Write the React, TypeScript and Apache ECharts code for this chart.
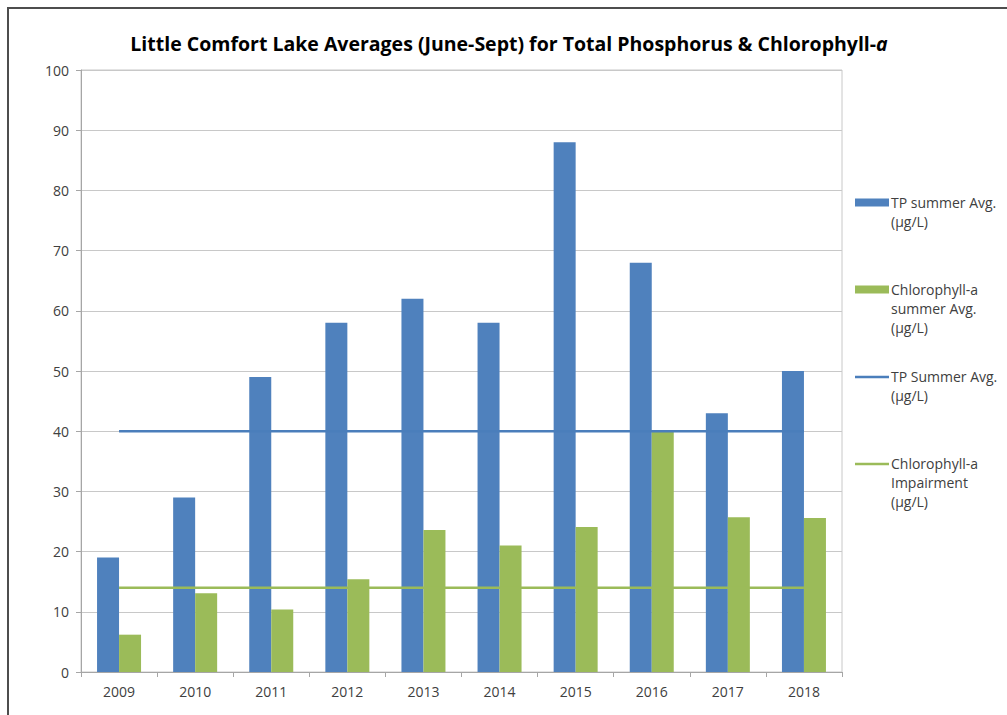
import React, { useEffect, useRef } from "react";
import * as echarts from "echarts";

const years = ["2009", "2010", "2011", "2012", "2013", "2014", "2015", "2016", "2017", "2018"];
const tpAvg = [19, 29, 49, 58, 62, 58, 88, 68, 43, 50];
const chlAvg = [6.2, 13.1, 10.4, 15.4, 23.6, 21.0, 24.1, 39.9, 25.7, 25.6];
const tpStandard = [40, 40, 40, 40, 40, 40, 40, 40, 40, 40];
const chlImpairment = [14, 14, 14, 14, 14, 14, 14, 14, 14, 14];
const legendNames = [
  "TP summer Avg.\n(µg/L)",
  "Chlorophyll-a\nsummer Avg.\n(µg/L)",
  "TP Summer Avg.\n(µg/L)",
  "Chlorophyll-a\nImpairment\n(µg/L)",
];

const BLUE = "#4f81bd";
const GREEN = "#9bbb59";
const LINE_BLUE = "#4a7ebb";
const FONT = "Open Sans";

export default function App() {
  const ref = useRef<HTMLDivElement>(null);
  useEffect(() => {
    if (!ref.current) return;
    const chart = echarts.init(ref.current, null, { renderer: "svg" });
    const legendTop = [203, 290, 377, 464];
    const legendGraphics: any[] = [];
    legendNames.forEach((name, i) => {
      const cy = legendTop[i];
      if (i < 2) {
        legendGraphics.push({
          type: "rect",
          shape: { x: 855, y: cy - 4.5, width: 34, height: 8 },
          style: { fill: i === 0 ? BLUE : GREEN },
        });
      } else {
        legendGraphics.push({
          type: "line",
          shape: { x1: 855, y1: cy, x2: 889, y2: cy },
          style: { stroke: i === 2 ? LINE_BLUE : GREEN, lineWidth: 2.5 },
        });
      }
      legendGraphics.push({
        type: "text",
        x: 891,
        y: cy - 10,
        style: {
          text: name,
          fill: "#404040",
          font: `14px '${FONT}'`,
          lineHeight: 19,
          verticalAlign: "top",
        },
      });
    });

    chart.setOption({
      animation: false,
      backgroundColor: "#ffffff",
      title: {
        text: "Little Comfort Lake Averages (June-Sept) for Total Phosphorus & Chlorophyll-{i|a}",
        left: 504,
        textAlign: "center",
        top: 28,
        textStyle: {
          fontFamily: FONT,
          fontWeight: "bold",
          fontSize: 19.5,
          color: "#000000",
          rich: {
            i: { fontFamily: FONT, fontWeight: "bold", fontStyle: "italic", fontSize: 19.5, color: "#000000" },
          },
        },
      },
      grid: {
        left: 81,
        right: 165,
        top: 70,
        bottom: 43,
        show: true,
        borderColor: "#c8c8c8",
        borderWidth: 1,
      },
      xAxis: {
        type: "category",
        data: years,
        boundaryGap: true,
        axisLine: { show: true, lineStyle: { color: "#a6a6a6", width: 1 } },
        axisTick: { show: true, length: 5, lineStyle: { color: "#a6a6a6" } },
        axisLabel: { fontFamily: FONT, fontSize: 14, color: "#404040", margin: 12 },
      },
      yAxis: {
        type: "value",
        min: 0,
        max: 100,
        interval: 10,
        axisLine: { show: true, lineStyle: { color: "#a6a6a6", width: 1 } },
        axisTick: { show: true, length: 5, lineStyle: { color: "#a6a6a6" } },
        splitLine: { lineStyle: { color: "#c8c8c8", width: 1 } },
        axisLabel: { fontFamily: FONT, fontSize: 14, color: "#404040", margin: 12 },
      },
      series: [
        {
          name: legendNames[0],
          type: "bar",
          data: tpAvg,
          barWidth: 22,
          barGap: "0%",
          itemStyle: { color: BLUE },
          z: 2,
        },
        {
          name: legendNames[1],
          type: "bar",
          data: chlAvg,
          barWidth: 22,
          barGap: "0%",
          itemStyle: { color: GREEN },
          z: 2,
        },
        {
          name: legendNames[2],
          type: "line",
          data: tpStandard,
          showSymbol: false,
          symbol: "none",
          lineStyle: { color: LINE_BLUE, width: 2.5 },
          z: 5,
        },
        {
          name: legendNames[3],
          type: "line",
          data: chlImpairment,
          showSymbol: false,
          symbol: "none",
          lineStyle: { color: GREEN, width: 2.5 },
          z: 5,
        },
      ],
      graphic: [
        {
          type: "rect",
          shape: { x: 8, y: 8, width: 1030, height: 730 },
          style: { fill: "none", stroke: "#4d4d4d", lineWidth: 2 },
          silent: true,
        },
        ...legendGraphics,
      ],
    });
    return () => chart.dispose();
  }, []);
  return (
    <div
      ref={ref}
      style={{ position: "fixed", left: 0, top: 0, width: 1007, height: 715 }}
    />
  );
}
